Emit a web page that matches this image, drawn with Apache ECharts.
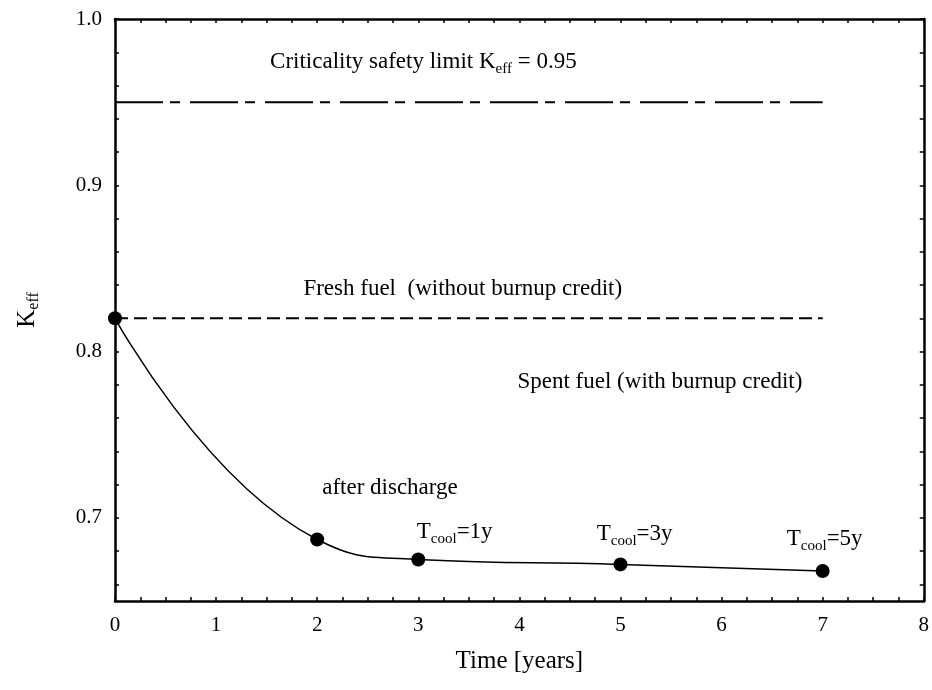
<!DOCTYPE html>
<html>
<head>
<meta charset="utf-8">
<title>Keff vs time</title>
<script src="https://cdn.jsdelivr.net/npm/echarts@6/dist/echarts.min.js"></script>
<style>
  html, body { margin: 0; padding: 0; background: #fff; }
  #chart { width: 932px; height: 690px; }
</style>
</head>
<body>
<div id="chart"></div>
<script>
// data
const years = [0, 2, 3, 5, 7];
const keff = [0.820, 0.687, 0.675, 0.672, 0.668];
const freshX = [0, 7];
const freshK = [0.82, 0.82];
const limitX = [0, 7];
const limitK = [0.95, 0.95];

// y ticks every 0.02, labels every 0.1
const yTicks = [0.66, 0.68, 0.70, 0.72, 0.74, 0.76, 0.78, 0.80, 0.82, 0.84, 0.86, 0.88, 0.90, 0.92, 0.94, 0.96, 0.98, 1.00];
const yLabels = [0.7, 0.8, 0.9, 1.0];

// text annotations, anchored in data units
const noteText = [
  '{m|Criticality safety limit K}{s|eff}{m| = 0.95}',
  '{m|Fresh fuel  (without burnup credit)}',
  '{m|Spent fuel (with burnup credit)}',
  '{m|after discharge}',
  '{m|T}{s|cool}{m|=1y}',
  '{m|T}{s|cool}{m|=3y}',
  '{m|T}{s|cool}{m|=5y}'
];
const noteX = [3.05, 3.44, 5.39, 2.72, 3.36, 5.14, 7.02];
const noteY = [0.9742, 0.8375, 0.7819, 0.7178, 0.6917, 0.6905, 0.6875];

const FONT = 'Liberation Serif';
const rich = {
  m: { fontFamily: FONT, fontSize: 23, color: '#000', lineHeight: 30, textBorderWidth: 0 },
  s: { fontFamily: FONT, fontSize: 15, color: '#000', padding: [15, 0, 0, 0], textBorderWidth: 0 }
};

const chart = echarts.init(document.getElementById('chart'));

const baseAxis = {
  axisLine: { show: true, onZero: false, lineStyle: { color: '#000', width: 2.5 } },
  axisTick: { show: true, inside: true, length: 4, lineStyle: { color: '#000', width: 1.5 } },
  splitLine: { show: false }
};

chart.setOption({
  animation: false,
  backgroundColor: '#fff',
  grid: { left: 115, right: 8, top: 19, bottom: 89 },
  xAxis: [
    Object.assign({}, baseAxis, {
      type: 'value', min: 0, max: 8, interval: 1,
      name: 'Time [years]', nameLocation: 'middle', nameGap: 48,
      nameTextStyle: { fontFamily: FONT, fontSize: 25, color: '#000' },
      minorTick: { show: true, splitNumber: 4, length: 4, lineStyle: { color: '#000', width: 1.5 } },
      axisLabel: { fontFamily: FONT, fontSize: 21, color: '#000', margin: 14 }
    }),
    Object.assign({}, baseAxis, {
      type: 'value', position: 'top', min: 0, max: 8, interval: 1,
      minorTick: { show: true, splitNumber: 4, length: 4, lineStyle: { color: '#000', width: 1.5 } },
      axisLabel: { show: false }
    })
  ],
  yAxis: [
    Object.assign({}, baseAxis, {
      type: 'value', min: 0.65, max: 1.0,
      name: '{m|K}{s|eff}', nameLocation: 'middle', nameGap: 72,
      nameTextStyle: {
        rich: {
          m: { fontFamily: FONT, fontSize: 25, color: '#000', lineHeight: 32 },
          s: { fontFamily: FONT, fontSize: 16, color: '#000', padding: [14, 0, 0, 0] }
        }
      },
      axisTick: Object.assign({}, baseAxis.axisTick, { customValues: yTicks }),
      axisLabel: {
        fontFamily: FONT, fontSize: 21, color: '#000', margin: 13,
        customValues: yLabels,
        formatter: v => v.toFixed(1)
      }
    }),
    Object.assign({}, baseAxis, {
      type: 'value', position: 'right', min: 0.65, max: 1.0,
      axisTick: Object.assign({}, baseAxis.axisTick, { customValues: yTicks }),
      axisLabel: { show: false }
    })
  ],
  series: [
    {
      type: 'line',
      data: limitX.map((x, i) => [x, limitK[i]]),
      symbol: 'none',
      lineStyle: { color: '#000', width: 2, type: [48, 7, 10, 10] },
      z: 2
    },
    {
      type: 'line',
      data: freshX.map((x, i) => [x, freshK[i]]),
      symbol: 'none',
      lineStyle: { color: '#000', width: 2, type: [13, 6] },
      z: 2
    },
    {
      type: 'line',
      data: years.map((x, i) => [x, keff[i]]),
      smooth: 0.5,
      symbol: 'circle',
      symbolSize: 14,
      itemStyle: { color: '#000' },
      lineStyle: { color: '#000', width: 1.5 },
      z: 3
    },
    {
      type: 'scatter',
      symbolSize: 0,
      silent: true,
      itemStyle: { opacity: 1, color: '#000' },
      data: noteText.map((t, i) => ({
        value: [noteX[i], noteY[i]],
        label: { formatter: t }
      })),
      label: { show: true, position: 'inside', color: '#000', opacity: 1, textBorderWidth: 0, rich: rich },
      z: 4
    }
  ]
});
</script>
</body>
</html>
